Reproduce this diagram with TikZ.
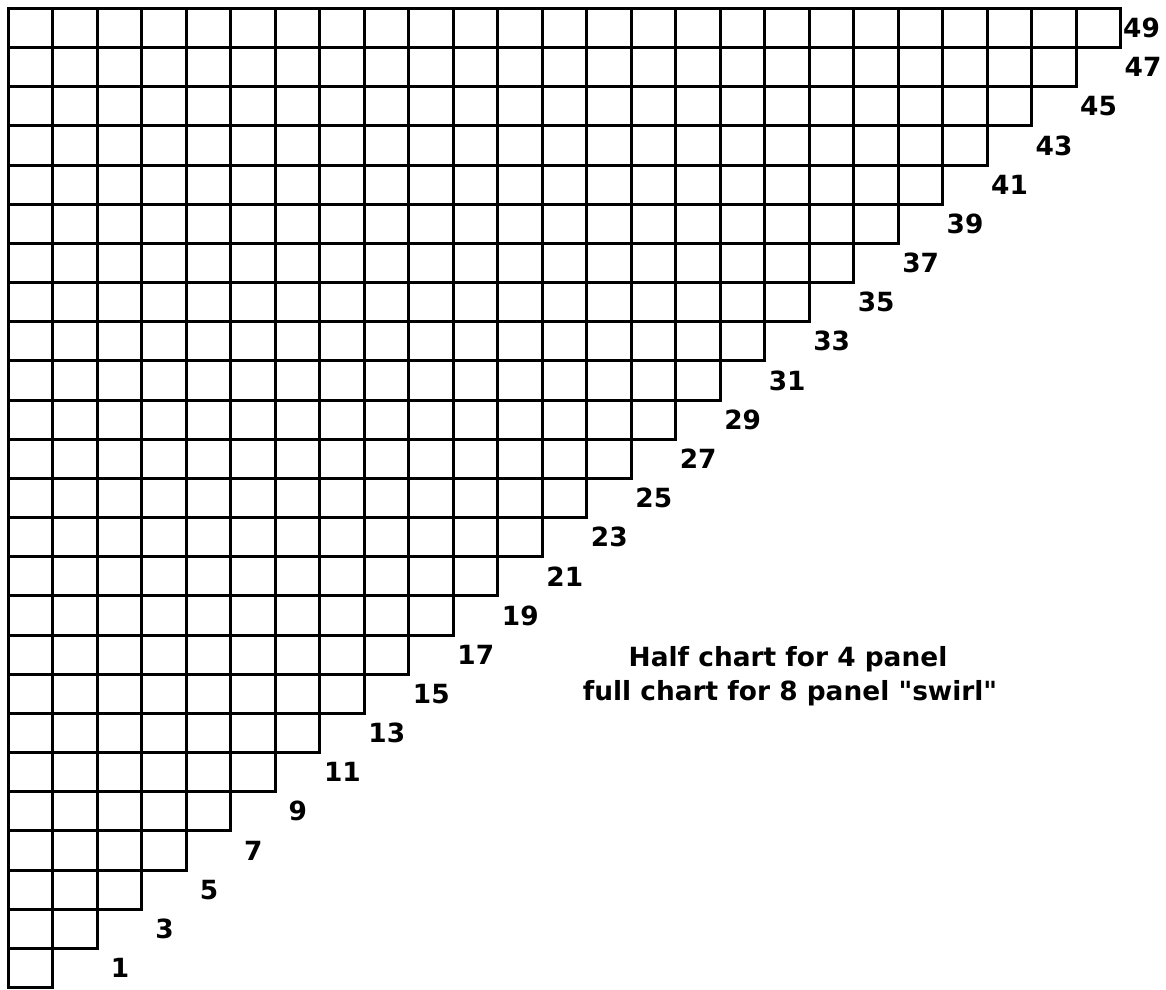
\documentclass[tikz,border=0pt]{standalone}
\usepackage{fontspec}
\setmainfont{DejaVu Sans}[Ligatures=TeXOff]
\begin{document}
\begin{tikzpicture}[x=1bp,y=-1bp,
  cell/.style={draw=black,line width=3bp,line join=miter},
  lbl/.style={font=\fontsize{26.5}{37}\selectfont\bfseries,inner sep=0pt},
  note/.style={font=\fontsize{26.5}{37}\selectfont\bfseries,inner sep=0pt,anchor=base}]
\useasboundingbox (0,0) rectangle (1166,990);
\pgfmathsetmacro{\cw}{44.48}
\pgfmathsetmacro{\ch}{39.16}
\foreach \i in {1,...,25}{
  \pgfmathsetmacro{\ytop}{987.5-round(\i*\ch)}
  \pgfmathsetmacro{\ybot}{987.5-round((\i-1)*\ch)}
  \foreach \j in {1,...,\i}{
    \pgfmathsetmacro{\xl}{8.5+round((\j-1)*\cw)}
    \pgfmathsetmacro{\xr}{8.5+round(\j*\cw)}
    \draw[cell] (\xl,\ytop) rectangle (\xr,\ybot);
  }
}
\foreach \i in {1,...,24}{
  \pgfmathtruncatemacro{\n}{2*\i-1}
  \node[lbl] (l\n) at ({8.5+\i*\cw+67},{987.5-(\i-0.5)*\ch}) {\n};
}
\node[lbl] (l49) at (1141.5,{987.5-24.5*\ch}) {49};
\node[note] (t1) at (788,666) {Half chart for 4 panel};
\node[note] (t2) at (790,700) {full chart for 8 panel "swirl"};
\end{tikzpicture}
\end{document}
